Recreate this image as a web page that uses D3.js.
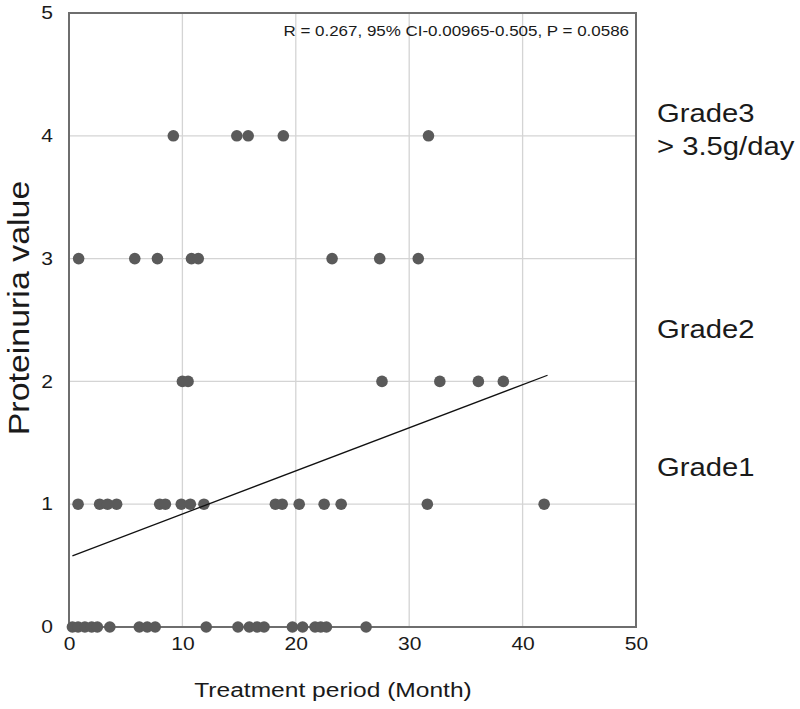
<!DOCTYPE html>
<html><head><meta charset="utf-8">
<script src="https://cdn.jsdelivr.net/npm/d3@7"></script>
<style>body{margin:0;background:#fff}svg{display:block}text{font-family:"Liberation Sans",Arial,sans-serif}</style>
</head><body><svg id="c" width="800" height="709"></svg>
<script>
const grade0 = [0.3, 0.8, 1.4, 2.0, 2.5, 3.6, 6.2, 6.9, 7.6, 12.1, 14.9, 15.9, 16.6, 17.2, 19.7, 20.6, 21.7, 22.2, 22.7, 26.2];
const grade1 = [0.8, 2.7, 3.4, 4.2, 8.0, 8.5, 9.9, 10.7, 11.9, 18.2, 18.8, 20.3, 22.5, 24.0, 31.6, 41.9];
const grade2 = [10.0, 10.5, 27.6, 32.7, 36.1, 38.3];
const grade3 = [0.85, 5.8, 7.8, 10.8, 11.4, 23.2, 27.4, 30.8];
const grade4 = [9.2, 14.8, 15.8, 18.9, 31.7];
const regX = [0.3, 42.2];
const regY = [0.58, 2.05];
const xTicks = [0, 10, 20, 30, 40, 50];
const yTicks = [0, 1, 2, 3, 4, 5];
const gradeLabels = [{y: 4, lines: ["Grade3", "> 3.5g/day"]}, {y: 2.5, lines: ["Grade2"]}, {y: 1.5, lines: ["Grade1"]}];
const statText = "R = 0.267, 95% CI-0.00965-0.505, P = 0.0586";
const xTitle = "Treatment period (Month)";
const yTitle = "Proteinuria value";

const SX = 1.17; // horizontal stretch of the reference text
const svg = d3.select("#c");
const m = {l: 69, r: 164, t: 13, b: 82};
const W = 800 - m.l - m.r, H = 709 - m.t - m.b;
const x = d3.scaleLinear().domain([0, 50]).range([m.l, m.l + W]);
const y = d3.scaleLinear().domain([0, 5]).range([m.t + H, m.t]);

function stext(px, py, str, size, anchor) {
  return svg.append("text").attr("transform", `translate(${px},${py}) scale(${SX},1)`)
    .attr("text-anchor", anchor || "start").attr("font-size", size).attr("fill", "#1a1a1a").text(str);
}

// gridlines
svg.append("g").selectAll("line").data(xTicks.slice(1, -1)).join("line")
  .attr("x1", d => x(d)).attr("x2", d => x(d)).attr("y1", y(0)).attr("y2", y(5))
  .attr("stroke", "#d4d4d4").attr("stroke-width", 1.3);
svg.append("g").selectAll("line").data(yTicks.slice(1, -1)).join("line")
  .attr("x1", x(0)).attr("x2", x(50)).attr("y1", d => y(d)).attr("y2", d => y(d))
  .attr("stroke", "#d4d4d4").attr("stroke-width", 1.3);

// axes (labels only)
const fmt = d3.format("d");
const xa = svg.append("g").attr("transform", `translate(0,${y(0)})`)
  .call(d3.axisBottom(x).tickValues(xTicks).tickFormat(fmt).tickSize(0).tickPadding(10));
xa.select(".domain").remove();
xa.selectAll("text").attr("font-size", 18).attr("fill", "#1a1a1a")
  .attr("font-family", "Liberation Sans, Arial, sans-serif").attr("transform", `scale(${SX},1)`);
const ya = svg.append("g").attr("transform", `translate(${x(0)},0)`)
  .call(d3.axisLeft(y).tickValues(yTicks).tickFormat(fmt).tickSize(0).tickPadding(0));
ya.select(".domain").remove();
ya.selectAll(".tick text").attr("font-size", 18).attr("fill", "#1a1a1a").attr("x", -16 / SX)
  .attr("font-family", "Liberation Sans, Arial, sans-serif").attr("transform", `scale(${SX},1)`);

// frame
svg.append("rect").attr("x", x(0)).attr("y", y(5)).attr("width", x(50) - x(0)).attr("height", y(0) - y(5))
  .attr("fill", "none").attr("stroke", "#6e6e6e").attr("stroke-width", 2);

// points
const rows = [grade0, grade1, grade2, grade3, grade4];
const pts = rows.flatMap((arr, i) => arr.map(v => ({x: v, y: i})));
svg.append("g").selectAll("circle").data(pts).join("circle")
  .attr("cx", d => x(d.x)).attr("cy", d => y(d.y)).attr("r", 5.8)
  .attr("fill", "#5a5a5a");

// regression
svg.append("line").attr("x1", x(regX[0])).attr("y1", y(regY[0]))
  .attr("x2", x(regX[1])).attr("y2", y(regY[1])).attr("stroke", "#111").attr("stroke-width", 1.3);

// stat text
stext(x(50) - 7, 36, statText, 14.5, "end");

// grade labels
const gradeOffsets = [[-14, 33], [18], [33]];
gradeLabels.forEach((g, gi) => {
  g.lines.forEach((l, i) => {
    const off = gi === 0 ? gradeOffsets[0][0] + i * gradeOffsets[0][1] : gradeOffsets[gi][0];
    stext(657, y(g.y) + off, l, 25, "start");
  });
});

// titles
stext(333, 697, xTitle, 21, "middle");
svg.append("text").attr("transform", `translate(29,${(y(0) + y(5)) / 2 - 12}) rotate(-90) scale(${SX},1)`)
  .attr("text-anchor", "middle").attr("font-size", 29).attr("fill", "#1a1a1a").text(yTitle);
</script></body></html>
